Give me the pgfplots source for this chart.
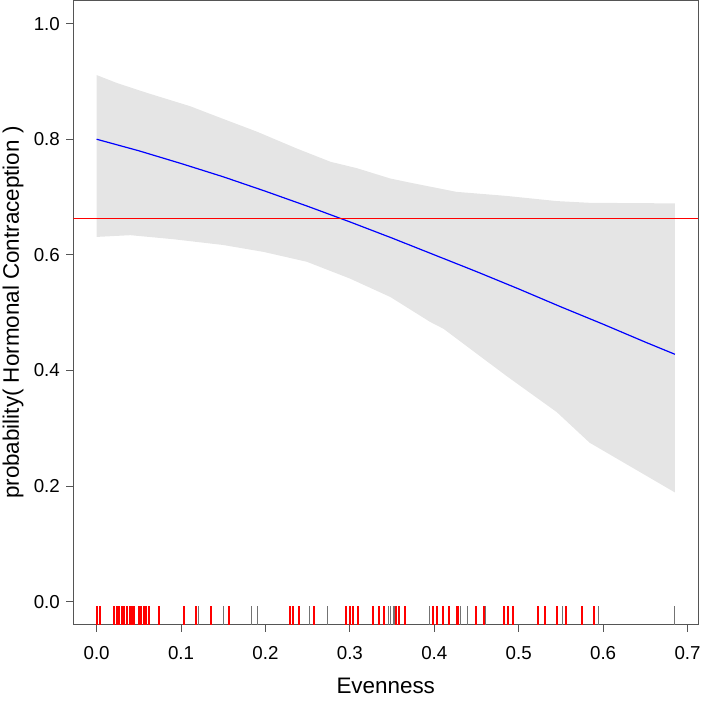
\documentclass[border=0pt]{standalone}
\usepackage{fontspec}
\setmainfont{Liberation Sans}
\usepackage{pgfplots}
\pgfplotsset{compat=1.18}
\usepgfplotslibrary{fillbetween}

\definecolor{bandgray}{RGB}{229,229,229}
\definecolor{axisgray}{RGB}{85,85,85}

\begin{document}
\begin{tikzpicture}
  \begin{axis}[
      scale only axis,
      width=624.5bp, height=624.3bp,
      xmin=-0.0274, xmax=0.7124,
      ymin=-0.04, ymax=1.04,
      xtick={0,0.1,0.2,0.3,0.4,0.5,0.6,0.7},
      ytick={0,0.2,0.4,0.6,0.8,1.0},
      axis line style={axisgray, line width=0.8bp},
      tick style={axisgray, line width=0.8bp},
      tick align=outside,
      major tick length=7bp,
      xtick pos=bottom, ytick pos=left,
      /pgf/number format/.cd, fixed, fixed zerofill, precision=1, assume math mode=true,
      /pgfplots/.cd,
      tick label style={font=\fontsize{18.8}{20}\selectfont},
      label style={font=\fontsize{22.5}{24}\selectfont},
      xticklabel style={anchor=base, yshift=-27.7bp},
      yticklabel style={anchor=east, inner sep=0pt, xshift=-6.5bp},
      xlabel={Evenness},
      ylabel={probability( Hormonal Contraception )},
      xlabel style={at={(axis description cs:0.5,-0.1095)}, anchor=base},
      ylabel style={at={(axis description cs:-0.0873,0.5)}, anchor=base},
    ]

    % confidence band
    \addplot[name path=up, draw=none] coordinates {
      (0,0.911) (0.0245,0.897) (0.060,0.880) (0.111,0.857) (0.143,0.839)
      (0.190,0.813) (0.237,0.784) (0.277,0.761) (0.308,0.750) (0.348,0.732)
      (0.371,0.725) (0.426,0.709) (0.485,0.702) (0.545,0.693) (0.584,0.690)
      (0.685,0.689)
    };
    \addplot[name path=lo, draw=none] coordinates {
      (0,0.631) (0.040,0.634) (0.091,0.627) (0.150,0.617) (0.198,0.605)
      (0.249,0.588) (0.300,0.559) (0.348,0.527) (0.395,0.484) (0.411,0.472)
      (0.485,0.391) (0.545,0.328) (0.584,0.275) (0.685,0.189)
    };
    \addplot[bandgray, draw=none] fill between[of=up and lo];

    % fitted probability
    \addplot[blue, line width=1.2bp] coordinates {
      (0,0.800) (0.05,0.780) (0.1,0.758) (0.15,0.735) (0.2,0.710)
      (0.25,0.684) (0.3,0.657) (0.35,0.629) (0.4,0.600) (0.45,0.571)
      (0.5,0.541) (0.55,0.510) (0.6,0.480) (0.65,0.449) (0.685,0.428)
    };

    % overall proportion
    \addplot[red, line width=1bp] coordinates {
      (-0.0274,0.6635) (0.7124,0.6635)
    };

    % rug: y = 0
    \addplot[only marks, mark=|, mark size=9.65bp,
      mark options={black!55, line width=0.6bp}] coordinates {
      (0.121,-0.0245) (0.150,-0.0245) (0.183,-0.0245) (0.190,-0.0245)
      (0.252,-0.0245) (0.273,-0.0245) (0.345,-0.0245) (0.348,-0.0245)
      (0.351,-0.0245) (0.353,-0.0245) (0.394,-0.0245) (0.431,-0.0245)
      (0.439,-0.0245) (0.461,-0.0245) (0.552,-0.0245) (0.594,-0.0245)
      (0.684,-0.0245)
    };
    % rug: y = 1
    \addplot[only marks, mark=|, mark size=9.65bp,
      mark options={red, line width=2bp}] coordinates {
      (0.001,-0.0245) (0.004,-0.0245) (0.021,-0.0245) (0.024,-0.0245)
      (0.027,-0.0245) (0.030,-0.0245) (0.033,-0.0245) (0.036,-0.0245)
      (0.039,-0.0245) (0.042,-0.0245) (0.044,-0.0245) (0.050,-0.0245)
      (0.053,-0.0245) (0.056,-0.0245) (0.059,-0.0245) (0.062,-0.0245)
      (0.074,-0.0245) (0.104,-0.0245) (0.118,-0.0245) (0.136,-0.0245)
      (0.157,-0.0245) (0.2285,-0.0245) (0.233,-0.0245) (0.240,-0.0245)
      (0.257,-0.0245) (0.296,-0.0245) (0.300,-0.0245) (0.304,-0.0245)
      (0.310,-0.0245) (0.327,-0.0245) (0.335,-0.0245) (0.340,-0.0245)
      (0.355,-0.0245) (0.358,-0.0245) (0.365,-0.0245) (0.398,-0.0245)
      (0.403,-0.0245) (0.410,-0.0245) (0.418,-0.0245) (0.427,-0.0245)
      (0.428,-0.0245) (0.450,-0.0245) (0.459,-0.0245) (0.482,-0.0245)
      (0.487,-0.0245) (0.493,-0.0245) (0.523,-0.0245) (0.531,-0.0245)
      (0.545,-0.0245) (0.556,-0.0245) (0.575,-0.0245) (0.589,-0.0245)
    };
  \end{axis}
  \pgfresetboundingbox
  \path (current axis.south west) ++(-73.5bp,-76.7bp) coordinate (bl);
  \path (current axis.north east) ++(4bp,0.5bp) coordinate (tr);
  \path[use as bounding box] (bl) rectangle (tr);
\end{tikzpicture}
\end{document}
